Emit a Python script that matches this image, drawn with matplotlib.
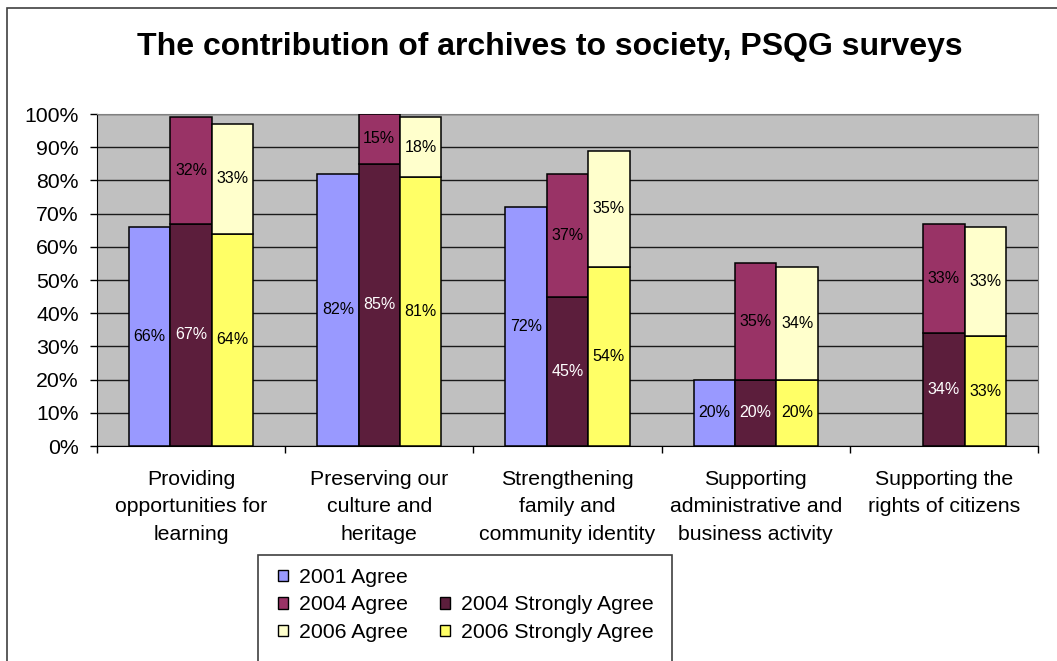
import numpy as np
import matplotlib.pyplot as plt
from matplotlib.patches import Rectangle, Patch

plt.rcParams['font.family'] = ['Liberation Sans', 'DejaVu Sans']

categories = [
    "Providing\nopportunities for\nlearning",
    "Preserving our\nculture and\nheritage",
    "Strengthening\nfamily and\ncommunity identity",
    "Supporting\nadministrative and\nbusiness activity",
    "Supporting the\nrights of citizens",
]
agree_2001 = [66, 82, 72, 20, np.nan]
strong_2004 = [67, 85, 45, 20, 34]
agree_2004 = [32, 15, 37, 35, 33]
strong_2006 = [64, 81, 54, 20, 33]
agree_2006 = [33, 18, 35, 34, 33]
y_ticks = [0, 10, 20, 30, 40, 50, 60, 70, 80, 90, 100]

c_2001 = '#9999FF'
c_2004a = '#993366'
c_2004s = '#5C1E3C'
c_2006a = '#FFFFCC'
c_2006s = '#FFFF66'

W, H = 1057, 661
fig = plt.figure(figsize=(W / 100, H / 100), dpi=100)

# outer chart border (runs off the right and bottom of the image)
fig.patches.append(Rectangle((7 / W, -0.1), 1.2, 1 - 8 / H + 0.1, transform=fig.transFigure,
                             fill=False, edgecolor='#404040', linewidth=1.2))

ax = fig.add_axes([97 / W, 1 - 446 / H, (1038 - 97) / W, (446 - 114) / H])
ax.set_facecolor('#C0C0C0')

x = np.arange(len(categories))
bw = 0.22
edge = dict(edgecolor='black', linewidth=1.1, zorder=3)

b1 = ax.bar(x - bw, agree_2001, bw, color=c_2001, **edge)
b2s = ax.bar(x, strong_2004, bw, color=c_2004s, **edge)
b2a = ax.bar(x, agree_2004, bw, bottom=strong_2004, color=c_2004a, **edge)
b3s = ax.bar(x + bw, strong_2006, bw, color=c_2006s, **edge)
b3a = ax.bar(x + bw, agree_2006, bw, bottom=strong_2006, color=c_2006a, **edge)

def fmt(v):
    return '' if np.isnan(v) else '%d%%' % v

for bars, vals, col in [(b1, agree_2001, 'black'), (b2s, strong_2004, 'white'),
                        (b2a, agree_2004, 'black'), (b3s, strong_2006, 'black'),
                        (b3a, agree_2006, 'black')]:
    ax.bar_label(bars, labels=[fmt(float(v)) for v in vals], label_type='center',
                 color=col, fontsize=11.5, zorder=4)

ax.set_xlim(-0.5, len(categories) - 0.5)
ax.set_ylim(0, 100)
ax.set_yticks(y_ticks)
ax.set_yticklabels(['%d%%' % v for v in y_ticks], fontsize=15.3)
ax.yaxis.grid(True, color='#1a1a1a', linewidth=1.0, zorder=1)
ax.set_axisbelow(True)

ax.set_xticks(x)
ax.set_xticklabels(categories, fontsize=15.3, linespacing=1.58)
ax.set_xticks(np.arange(len(categories) + 1) - 0.5, minor=True)
ax.tick_params(axis='x', which='major', length=0, pad=17)
ax.tick_params(axis='x', which='minor', length=5, direction='out', width=1)
ax.tick_params(axis='y', length=5, direction='out', width=1, pad=8)

for s in ['top', 'right']:
    ax.spines[s].set_color('#808080')
for s in ['left', 'bottom']:
    ax.spines[s].set_color('black')

fig.text(550 / W, 1 - 47 / H, 'The contribution of archives to society, PSQG surveys',
         ha='center', va='center', fontsize=23, fontweight='bold')

# legend: blank slot keeps "2001 Agree" alone on the first row
blank = Patch(visible=False)
handles = [Patch(facecolor=c_2001, edgecolor='black'), Patch(facecolor=c_2004a, edgecolor='black'),
           Patch(facecolor=c_2006a, edgecolor='black'), blank,
           Patch(facecolor=c_2004s, edgecolor='black'), Patch(facecolor=c_2006s, edgecolor='black')]
labels = ['2001 Agree', '2004 Agree', '2006 Agree', '', '2004 Strongly Agree', '2006 Strongly Agree']
fig.legend(handles, labels, ncol=2, loc='upper left', bbox_to_anchor=(278 / W, 1 - 568 / H),
           frameon=False, fontsize=15.3, handlelength=0.47, handleheight=0.47,
           handletextpad=0.52, labelspacing=0.4, columnspacing=1.5, borderpad=0,
           borderaxespad=0)
fig.patches.append(Rectangle((258 / W, -0.1), (672 - 258) / W, 0.1 + 1 - 555 / H,
                             transform=fig.transFigure, fill=False, edgecolor='#404040',
                             linewidth=1.2))

fig.savefig('out.png', dpi=100)
